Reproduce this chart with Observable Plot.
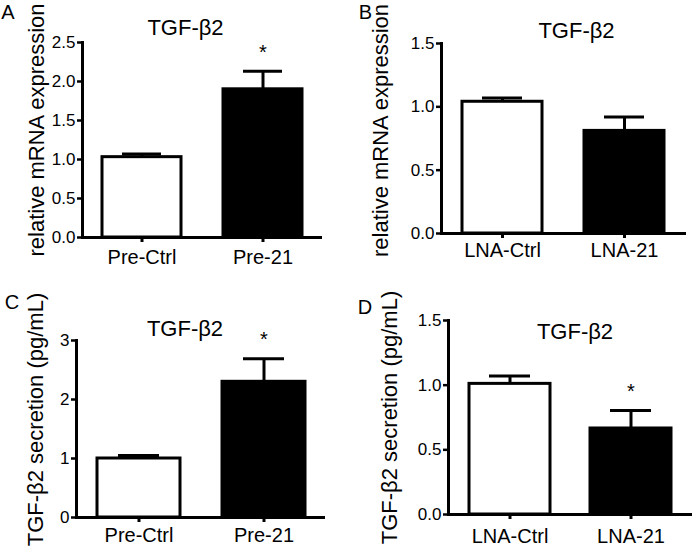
<!DOCTYPE html>
<html>
<head>
<meta charset="utf-8">
<script src="https://cdn.jsdelivr.net/npm/d3@7"></script>
<script src="https://cdn.jsdelivr.net/npm/@observablehq/plot@0.6"></script>
<style>
  body { margin: 0; background: #fff; }
  #fig { position: relative; width: 693px; height: 557px; overflow: hidden; background: #fff; }
  .panel { position: absolute; }
  .panel svg { overflow: visible; }
</style>
</head>
<body>
<div id="fig"></div>
<script>
// ---- data ----
const letters = ["A", "B", "C", "D"];
const titles = ["TGF-β2", "TGF-β2", "TGF-β2", "TGF-β2"];
const yLabels = ["relative mRNA expression", "relative mRNA expression", "TGF-β2 secretion (pg/mL)", "TGF-β2 secretion (pg/mL)"];

const groupsA = ["Pre-Ctrl", "Pre-21"];
const meanA = [1.03, 1.90];
const errA = [0.04, 0.23];
const sigA = ["", "*"];
const yTicksA = [0, 0.5, 1.0, 1.5, 2.0, 2.5];

const groupsB = ["LNA-Ctrl", "LNA-21"];
const meanB = [1.04, 0.81];
const errB = [0.03, 0.11];
const sigB = ["", ""];
const yTicksB = [0, 0.5, 1.0, 1.5];

const groupsC = ["Pre-Ctrl", "Pre-21"];
const meanC = [1.00, 2.30];
const errC = [0.05, 0.39];
const sigC = ["", "*"];
const yTicksC = [0, 1, 2, 3];

const groupsD = ["LNA-Ctrl", "LNA-21"];
const meanD = [1.01, 0.665];
const errD = [0.06, 0.14];
const sigD = ["", "*"];
const yTicksD = [0, 0.5, 1.0, 1.5];

const barFills = ["white", "black"];

// ---- layout / style ----
const FONT = "'Liberation Sans', Arial, Helvetica, sans-serif";
const layouts = [
  {left: 0, top: 0, w: 346, h: 278, mL: 82, mR: 24, mT: 42, mB: 41, pi: 0.347, po: 0.165, fmt: ".1f",
   xpad: 7, tdx: -17, tdy: -14.5, ldx: -46, ldy: -10, adx: -74.5, ady: -30, cap: 20},
  {left: 346, top: 0, w: 347, h: 278, mL: 95, mR: 7, mT: 43, mB: 45, pi: 0.341, po: 0.167, fmt: ".1f",
   xpad: 4.5, tdx: 12.5, tdy: -12.7, ldx: -61, ldy: -8, adx: -76, ady: -31, cap: 20},
  {left: 0, top: 278, w: 346, h: 279, mL: 76, mR: 21, mT: 62, mB: 40, pi: 0.336, po: 0.164, fmt: "d",
   xpad: 5, tdx: -16, tdy: -12, ldx: -41, ldy: -9.5, adx: -64.5, ady: -37.5, cap: 21},
  {left: 346, top: 278, w: 347, h: 279, mL: 102, mR: 1, mT: 42, mB: 43, pi: 0.329, po: 0.169, fmt: ".1f",
   xpad: 9, tdx: 4.5, tdy: 11.5, ldx: -59, ldy: 0, adx: -83.5, ady: -12.5, cap: 20}
];

const panelsData = [
  {groups: groupsA, mean: meanA, err: errA, sig: sigA, ticks: yTicksA},
  {groups: groupsB, mean: meanB, err: errB, sig: sigB, ticks: yTicksB},
  {groups: groupsC, mean: meanC, err: errC, sig: sigC, ticks: yTicksC},
  {groups: groupsD, mean: meanD, err: errD, sig: sigD, ticks: yTicksD}
];

const fig = document.getElementById("fig");

panelsData.forEach((p, k) => {
  const L = layouts[k];
  const rows = p.groups.map((g, i) => ({
    group: g, mean: p.mean[i], top: p.mean[i] + p.err[i], sig: p.sig[i], fill: barFills[i]
  }));
  const chart = Plot.plot({
    width: L.w, height: L.h,
    marginLeft: L.mL, marginRight: L.mR, marginTop: L.mT, marginBottom: L.mB,
    style: {fontFamily: FONT, background: "white", color: "black", overflow: "visible"},
    x: {domain: p.groups, paddingInner: L.pi, paddingOuter: L.po, axis: null},
    y: {domain: [p.ticks[0], p.ticks[p.ticks.length - 1]], axis: null},
    color: {type: "identity"},
    marks: [
      Plot.axisY({ticks: p.ticks, tickFormat: d3.format(L.fmt), tickSize: 5, tickPadding: 2,
                  fontSize: 17, strokeWidth: 2.5, label: null, stroke: "black", fill: "black"}),
      Plot.axisX({tickSize: 5, tickPadding: L.xpad, fontSize: 20, strokeWidth: 3,
                  label: null, stroke: "black", fill: "black"}),
      Plot.ruleX(rows, {x: "group", y1: "mean", y2: "top", stroke: "black", strokeWidth: 3}),
      Plot.tickY(rows, {x: "group", y: "top", stroke: "black", strokeWidth: 3,
                        insetLeft: L.cap, insetRight: L.cap}),
      Plot.barY(rows, {x: "group", y: "mean", fill: "fill", stroke: "black", strokeWidth: 3}),
      Plot.ruleY([0], {stroke: "black", strokeWidth: 3}),
      Plot.frame({anchor: "left", stroke: "black", strokeWidth: 3}),
      Plot.text(rows, {x: "group", y: "top", text: "sig", dy: -19, fontSize: 20, fill: "black",
                       textAnchor: "middle", lineAnchor: "middle"}),
      Plot.text([titles[k]], {text: d => d, frameAnchor: "top", dx: L.tdx, dy: L.tdy, fontSize: 22,
                              fill: "black", textAnchor: "middle", lineAnchor: "middle"}),
      Plot.text([yLabels[k]], {text: d => d, frameAnchor: "left", rotate: -90, dx: L.ldx, dy: L.ldy,
                               fontSize: 22, fill: "black", textAnchor: "middle", lineAnchor: "middle"}),
      Plot.text([letters[k]], {text: d => d, frameAnchor: "top-left", dx: L.adx, dy: L.ady, fontSize: 20,
                               fill: "black", textAnchor: "middle", lineAnchor: "middle"})
    ]
  });
  const div = document.createElement("div");
  div.className = "panel";
  div.style.left = L.left + "px";
  div.style.top = L.top + "px";
  div.style.width = L.w + "px";
  div.style.height = L.h + "px";
  div.appendChild(chart);
  fig.appendChild(div);
});
</script>
</body>
</html>
